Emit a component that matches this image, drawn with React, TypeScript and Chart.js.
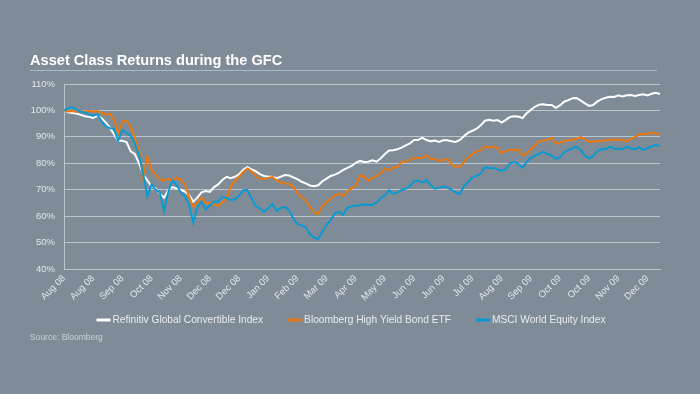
import React, { useEffect, useRef } from "react";
import { Chart, registerables } from "chart.js";

Chart.register(...registerables);

const TITLE = "Asset Class Returns during the GFC";
const SOURCE = "Source: Bloomberg";
const SERIES_NAMES = [
  "Refinitiv Global Convertible Index",
  "Bloomberg High Yield Bond ETF",
  "MSCI World Equity Index",
];
const SERIES_COLORS = ["#ffffff", "#e8780f", "#0a9ad3"];

const TICK_LABELS = [
  "Aug 08", "Aug 08", "Sep 08", "Oct 08", "Nov 08", "Dec 08", "Dec 08",
  "Jan 09", "Feb 09", "Mar 09", "Apr 09", "May 09", "Jun 09", "Jun 09",
  "Jul 09", "Aug 09", "Sep 09", "Oct 09", "Oct 09", "Nov 09", "Dec 09",
];
const POINTS_PER_TICK = 7;
const Y_MIN = 40;
const Y_MAX = 110;
const Y_STEP = 10;

const refinitiv = [
  100, 99.3, 99, 98.8, 98.3, 97.8, 97.6, 97.2, 98, 97,
  95.5, 93.5, 91, 88.5, 88.5, 88, 84.5, 83.5, 80, 75.8,
  73.5, 71.3, 70.5, 68.5, 67, 69.7, 71, 70.5, 70, 69.3,
  68, 65.5, 67, 69, 69.5, 69.2, 71, 72, 73.7, 74.9,
  74.4, 74.9, 75.8, 77.5, 78.5, 77.7, 77, 75.9, 75.2, 74.9,
  74.9, 74.4, 74.9, 75.6, 75.4, 74.7, 74, 73, 72.4, 71.6,
  71.3, 71.7, 73.2, 74.2, 75.2, 75.7, 76.5, 77.5, 78.3, 79,
  80.2, 80.9, 80.5, 80.6, 81.1, 80.6, 81.9, 83.5, 84.8, 84.9,
  85.3, 85.9, 86.8, 87.5, 88.8, 88.9, 89.6, 88.8, 88.3, 88.6,
  88.1, 88.7, 88.7, 88.3, 88.1, 88.8, 90.3, 91.6, 92.3, 93.1,
  94.4, 96.1, 96.5, 96.1, 96.4, 95.4, 96.4, 97.5, 97.8, 97.7,
  97.1, 98.9, 100.2, 101.4, 102.2, 102.3, 102.1, 102.1, 101, 101.9,
  103.3, 103.9, 104.6, 104.7, 103.7, 102.7, 101.7, 102.1, 103.4, 104.3,
  104.8, 105.2, 105.1, 105.7, 105.3, 105.7, 105.8, 105.5, 105.8, 106.1,
  105.7, 106.3, 106.7, 106.2,
];

const bloomberg = [
  100, 99.6, 99.8, 99.5, 99.8, 99.5, 99.8, 99.6, 99.8, 99,
  98.5, 98.8, 96.5, 91.5, 95.8, 96, 94, 89.5, 85, 74.5,
  82.5, 77.5, 75.5, 74, 73.5, 74, 73.5, 74.5, 73.8, 72,
  67.5, 63.5, 65, 67, 65, 65, 64.6, 63.8, 65.3, 66.7,
  71.2, 73.2, 74.9, 76.7, 78, 77, 75.3, 73.9, 74.2, 74.4,
  74.9, 73.4, 72.7, 72.4, 72.2, 71.2, 68.9, 67.1, 65.9, 63.6,
  61.5, 60.8, 63.8, 65.3, 66.5, 67.9, 68.5, 67.6, 69.5, 70.5,
  71.4, 75.5, 75, 73.5, 74.4, 75.2, 76.3, 78, 77.2, 78.5,
  78.5, 80.6, 80.6, 81.4, 82, 82, 82, 83, 81.7, 81.5,
  81, 81.2, 81.7, 79.5, 78.7, 78.7, 80.6, 82.3, 83.5, 84.5,
  84.9, 86.3, 85.9, 86.3, 85.8, 83.8, 84.8, 85, 85, 85.2,
  83, 83.6, 85.3, 86.9, 88.3, 88.6, 88.8, 89.7, 87.5, 87.8,
  88.4, 88.7, 88.9, 89.3, 89.9, 89.1, 88.1, 88.4, 88.2, 88.4,
  88.7, 88.8, 89.1, 88.8, 88.8, 88.4, 89.2, 89.9, 90.9, 91.1,
  91.1, 91.6, 91.3, 90.7,
];

const msci = [
  100, 100.8, 101.2, 100.2, 99.5, 99.3, 98.3, 98, 98.5, 96,
  94, 93.3, 93, 88.5, 92.6, 91.5, 90.5, 87.5, 83, 76,
  67.5, 72, 70, 69, 62, 69, 73.5, 72, 69, 67.5,
  64.5, 57.5, 63.5, 65.5, 62.5, 64, 65.5, 65.5, 67.4, 66.8,
  66.1, 66.4, 67.8, 69.8, 69.9, 66.7, 63.8, 63, 61.6, 63,
  64.6, 62, 63.1, 63.5, 62.1, 59.2, 57, 56.5, 55.8, 53.1,
  52, 51.3, 54.1, 56.8, 58.5, 61.1, 61.6, 60.4, 63.2, 63.7,
  64.1, 64, 64.5, 64.2, 64.3, 65.1, 66.9, 67.9, 69.8, 68.4,
  69, 69.9, 70.4, 71.4, 73.2, 73.5, 72.7, 73.7, 71.7, 70.4,
  70.7, 71.2, 70.9, 69.9, 68.9, 68.4, 71.4, 73, 74.7, 75.2,
  76.1, 78.5, 78.1, 78.3, 77.7, 77.2, 77.7, 80, 80.5, 79.8,
  78.3, 80.5, 82, 82.9, 83.6, 84.3, 83.5, 83, 81.7, 82.3,
  84.1, 85, 85.7, 86.3, 85, 82.8, 81.9, 82.8, 84.6, 85.4,
  85.3, 86.3, 85.5, 85.5, 85.3, 86.3, 85.6, 85.3, 86, 85,
  85.8, 86.4, 86.9, 86.5,
];

const BG = "#7f8c98";
const FONT = "'Liberation Sans', Arial, Helvetica, sans-serif";
const GRID = "#bcc4cc";
const TICK_COLOR = "#e2e6ea";

const categories = refinitiv.map((_, i) =>
  i % POINTS_PER_TICK === 0 && TICK_LABELS[i / POINTS_PER_TICK] ? TICK_LABELS[i / POINTS_PER_TICK] : ""
);

const decorPlugin = {
  id: "decor",
  beforeDraw(chart: any) {
    const ctx = chart.ctx;
    ctx.save();
    ctx.fillStyle = BG;
    ctx.fillRect(0, 0, chart.width, chart.height);
    ctx.restore();
  },
  afterDraw(chart: any) {
    const ctx = chart.ctx;
    ctx.save();
    // title
    ctx.fillStyle = "#ffffff";
    ctx.font = `bold 14.6px ${FONT}`;
    ctx.textBaseline = "alphabetic";
    ctx.textAlign = "left";
    ctx.fillText(TITLE, 30, 65);
    // rule under title
    ctx.strokeStyle = "#a6bccb";
    ctx.lineWidth = 1;
    ctx.beginPath();
    ctx.moveTo(30, 70.5);
    ctx.lineTo(657, 70.5);
    ctx.stroke();
    // legend
    const legendFont = `10.2px ${FONT}`;
    ctx.font = legendFont;
    const swatch = 14;
    const gap = 2;
    const itemGap = 25;
    const items = chart.data.datasets.map((ds: any) => ({
      label: ds.label,
      color: ds.borderColor,
      w: swatch + gap + ctx.measureText(ds.label).width,
    }));
    const total = items.reduce((s: number, it: any) => s + it.w, 0) + itemGap * (items.length - 1);
    let x = 351 - total / 2;
    const ly = 320;
    ctx.textBaseline = "middle";
    items.forEach((it: any) => {
      ctx.strokeStyle = it.color;
      ctx.lineWidth = 3;
      ctx.beginPath();
      ctx.moveTo(x, ly);
      ctx.lineTo(x + swatch, ly);
      ctx.stroke();
      ctx.fillStyle = "#e8ebee";
      ctx.fillText(it.label, x + swatch + gap, ly + 0.5);
      x += it.w + itemGap;
    });
    // source
    ctx.font = `8.5px ${FONT}`;
    ctx.fillStyle = "#c9d0d6";
    ctx.textBaseline = "alphabetic";
    ctx.fillText(SOURCE, 30, 339.5);
    ctx.restore();
  },
};

export default function App() {
  const canvasRef = useRef<HTMLCanvasElement | null>(null);

  useEffect(() => {
    document.body.style.margin = "0";
    document.body.style.background = BG;
    const canvas = canvasRef.current;
    if (!canvas) return;
    const datasets = [refinitiv, bloomberg, msci].map((data, k) => ({
      label: SERIES_NAMES[k],
      data,
      borderColor: SERIES_COLORS[k],
      backgroundColor: SERIES_COLORS[k],
      borderWidth: 2,
      pointRadius: 0,
      tension: 0,
      fill: false,
      order: 3 - k,
    }));
    const chart = new Chart(canvas, {
      type: "line",
      data: { labels: categories, datasets },
      options: {
        responsive: false,
        animation: false,
        devicePixelRatio: 1,
        layout: { padding: { left: 0, right: 40, top: 84, bottom: 65 } },
        plugins: {
          legend: { display: false },
          title: { display: false },
          tooltip: { enabled: false },
        },
        scales: {
          x: {
            type: "category",
            offset: false,
            grid: { display: false, drawTicks: false },
            border: { display: true, color: GRID, width: 1 },
            ticks: {
              autoSkip: false,
              maxRotation: 45,
              minRotation: 45,
              padding: 4,
              color: TICK_COLOR,
              font: { family: FONT, size: 9.5 },
            },
            afterFit(scale: any) {
              scale.height = 60;
            },
          },
          y: {
            min: Y_MIN,
            max: Y_MAX,
            grid: { color: GRID, lineWidth: 1, drawTicks: false },
            border: { display: true, color: GRID, width: 1 },
            ticks: {
              stepSize: Y_STEP,
              padding: 9,
              color: TICK_COLOR,
              font: { family: FONT, size: 9.5 },
              callback: (v: any) => `${v}%`,
            },
            afterFit(scale: any) {
              scale.width = 64;
            },
          },
        },
      },
      plugins: [decorPlugin],
    });
    return () => chart.destroy();
  }, []);

  return (
    <div style={{ width: 700, height: 394, background: BG, position: "relative" }}>
      <canvas ref={canvasRef} width={700} height={394} style={{ display: "block" }} />
    </div>
  );
}
